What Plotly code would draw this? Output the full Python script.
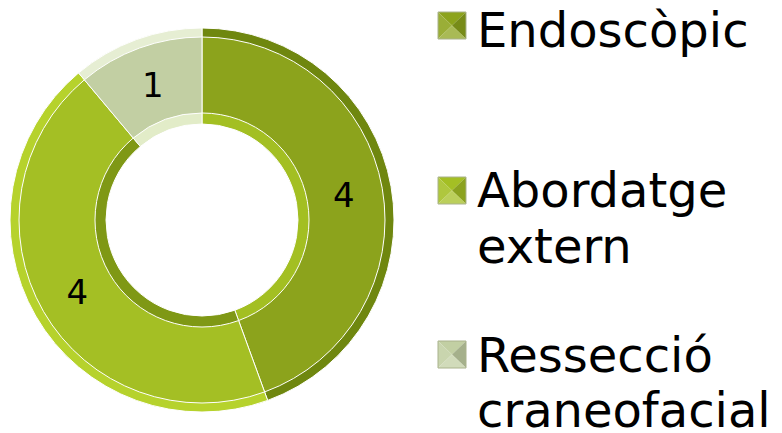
import plotly.graph_objects as go

labels = ["Endoscòpic", "Abordatge extern", "Ressecció craneofacial"]
values = [4, 4, 1]
colors = ["#8ca31c", "#a4bf24", "#c2cfa3"]
outer_rim = ["#6f870f", "#b6d22c", "#e6eed3"]
inner_rim = ["#a3bf22", "#7f9815", "#e2ecc8"]

W, H = 782, 433
cx, cy, R, r_in = 202, 220, 192, 96


def dom(radius):
    return dict(x=[(cx - radius) / W, (cx + radius) / W],
                y=[(H - cy - radius) / H, (H - cy + radius) / H])


def shade(hexc, f):
    h = hexc.lstrip("#")
    rgb = [int(h[i:i + 2], 16) for i in (0, 2, 4)]
    if f >= 0:
        rgb = [round(c + (255 - c) * f) for c in rgb]
    else:
        rgb = [round(c * (1 + f)) for c in rgb]
    return "#%02x%02x%02x" % tuple(rgb)


def px(x, y):
    return "%.5f,%.5f" % (x / W, 1 - y / H)


fig = go.Figure()
fig.add_trace(go.Pie(
    labels=labels, values=values, sort=False, direction="clockwise", rotation=0,
    hole=r_in / R, domain=dom(R),
    marker=dict(colors=colors, line=dict(color="white", width=1)),
    textinfo="value", textposition="inside", insidetextorientation="horizontal",
    textfont=dict(family="DejaVu Sans", size=34, color="black"),
    showlegend=False, hoverinfo="label+value"))
fig.add_trace(go.Pie(
    labels=labels, values=values, sort=False, direction="clockwise", rotation=0,
    hole=(R - 9) / R, domain=dom(R),
    marker=dict(colors=outer_rim, line=dict(color="white", width=1)),
    textinfo="none", showlegend=False, hoverinfo="skip"))
fig.add_trace(go.Pie(
    labels=labels, values=values, sort=False, direction="clockwise", rotation=0,
    hole=r_in / (r_in + 11), domain=dom(r_in + 11),
    marker=dict(colors=inner_rim, line=dict(color="white", width=1)),
    textinfo="none", showlegend=False, hoverinfo="skip"))

# custom legend
FS = 48
sq_tops = [12, 177, 341]
baselines = [[47], [207, 263], [372, 427]]
sx0, sx1 = 438, 466
tx = 478 - 3
shapes = []
annotations = []
for lab, col, top, bls in zip(labels, colors, sq_tops, baselines):
    t = top
    b = t + 27
    mx, my = (sx0 + sx1) / 2, (t + b) / 2
    tris = [
        ([(sx0, t), (sx1, t), (mx, my)], shade(col, 0.0)),     # top
        ([(sx0, t), (sx0, b), (mx, my)], shade(col, 0.12)),    # left
        ([(sx1, t), (sx1, b), (mx, my)], shade(col, -0.15)),   # right
        ([(sx0, b), (sx1, b), (mx, my)], shade(col, 0.25)),    # bottom
    ]
    for pts, c in tris:
        path = "M" + " L".join(px(x, y) for x, y in pts) + " Z"
        shapes.append(dict(type="path", xref="paper", yref="paper", path=path,
                           fillcolor=c, line=dict(width=0)))
    shapes.append(dict(type="rect", xref="paper", yref="paper",
                       x0=sx0 / W, x1=sx1 / W, y0=1 - b / H, y1=1 - t / H,
                       fillcolor="rgba(0,0,0,0)", line=dict(color="#a9b28c", width=1)))
    for line_text, bl in zip(lab.split(" "), bls):
        ytop = bl - 47
        annotations.append(dict(text=line_text, xref="paper", yref="paper",
                                x=tx / W, y=1 - ytop / H, xanchor="left", yanchor="top",
                                align="left", showarrow=False,
                                font=dict(family="DejaVu Sans", size=FS, color="black")))

fig.update_layout(width=W, height=H, margin=dict(l=0, r=0, t=0, b=0),
                  paper_bgcolor="white", plot_bgcolor="white",
                  shapes=shapes, annotations=annotations)
fig.write_html("out.html", config={"displayModeBar": False},
               post_script="document.body.style.margin='0';document.body.style.overflow='hidden';")
